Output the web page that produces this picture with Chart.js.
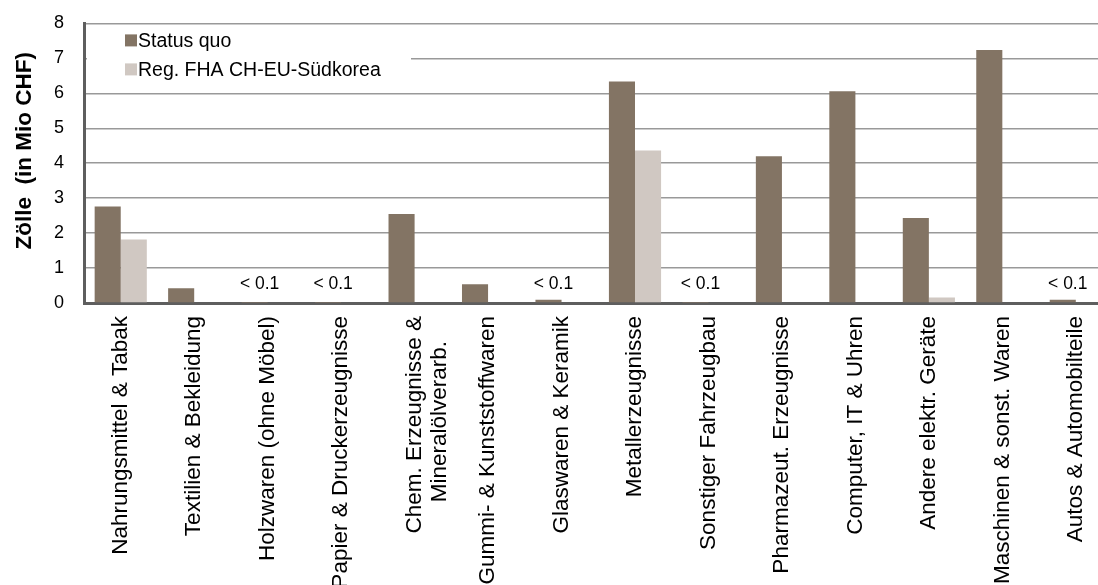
<!DOCTYPE html>
<html>
<head>
<meta charset="utf-8">
<script src="https://cdn.jsdelivr.net/npm/chart.js@4/dist/chart.umd.min.js"></script>
<style>
  html, body { margin: 0; padding: 0; background: #fff; overflow: hidden; }
  #wrap { width: 1114px; height: 585px; }
</style>
</head>
<body>
<div id="wrap"><canvas id="c" width="1114" height="585"></canvas></div>
<script>
// Branchen (x-axis categories)
const categories = [
  'Nahrungsmittel & Tabak',
  'Textilien & Bekleidung',
  'Holzwaren (ohne Möbel)',
  'Papier & Druckerzeugnisse',
  ['Chem. Erzeugnisse &', 'Mineralölverarb.    '],
  'Gummi- & Kunststoffwaren',
  'Glaswaren & Keramik',
  'Metallerzeugnisse',
  'Sonstiger Fahrzeugbau',
  'Pharmazeut. Erzeugnisse',
  'Computer, IT & Uhren',
  'Andere elektr. Geräte',
  'Maschinen & sonst. Waren',
  'Autos & Automobilteile'
];

// Zölle in Mio CHF
const statusQuo = [2.76, 0.42, 0.01, 0.01, 2.55, 0.54, 0.09, 6.34, 0.01, 4.20, 6.06, 2.43, 7.24, 0.09];
const regFHA    = [1.82, 0.00, 0.00, 0.00, 0.00, 0.00, 0.00, 4.36, 0.00, 0.00, 0.00, 0.16, 0.00, 0.00];

// Hinweise für sehr kleine Beträge
const valueNotes = ['', '', '< 0.1', '< 0.1', '', '', '< 0.1', '', '< 0.1', '', '', '', '', '< 0.1'];

const yTicks = [0, 1, 2, 3, 4, 5, 6, 7, 8];
const seriesNames = ['Status quo', 'Reg. FHA CH-EU-Südkorea'];
const seriesColors = ['#837464', '#d0c8c2'];

const FONT = '"Liberation Sans", Arial, sans-serif';

// Legend box drawn inside the plot area (top-left)
const innerLegend = {
  id: 'innerLegend',
  afterDatasetsDraw(chart) {
    const { ctx, chartArea } = chart;
    const x0 = chartArea.left + 3;
    const y0 = chartArea.top + 2;
    ctx.save();
    ctx.fillStyle = '#ffffff';
    ctx.fillRect(x0, y0, 324, 66);
    ctx.font = '19.5px ' + FONT;
    ctx.textBaseline = 'middle';
    ctx.textAlign = 'left';
    chart.data.datasets.forEach((ds, i) => {
      const cy = chartArea.top + 17 + i * 29;
      ctx.fillStyle = ds.backgroundColor;
      ctx.fillRect(chartArea.left + 41, cy - 6, 12, 12);
      ctx.fillStyle = '#000';
      ctx.fillText(ds.label, chartArea.left + 54, cy + 1);
    });
    ctx.restore();
  }
};

// "< 0.1" notes above the first series' bars
const smallValueNotes = {
  id: 'smallValueNotes',
  afterDatasetsDraw(chart) {
    const { ctx } = chart;
    const meta = chart.getDatasetMeta(0);
    const y = chart.scales.y.getPixelForValue(0) - 19;
    ctx.save();
    ctx.font = '17.5px ' + FONT;
    ctx.fillStyle = '#000';
    ctx.textAlign = 'center';
    ctx.textBaseline = 'middle';
    valueNotes.forEach((t, i) => {
      if (t) ctx.fillText(t, meta.data[i].x + 5, y);
    });
    ctx.restore();
  }
};

new Chart(document.getElementById('c'), {
  type: 'bar',
  data: {
    labels: categories,
    datasets: [
      { label: seriesNames[0], data: statusQuo, backgroundColor: seriesColors[0] },
      { label: seriesNames[1], data: regFHA, backgroundColor: seriesColors[1] }
    ]
  },
  options: {
    responsive: false,
    animation: false,
    devicePixelRatio: 1,
    layout: { padding: { top: 23.4, left: 0, right: 0, bottom: 0 } },
    datasets: { bar: { categoryPercentage: 0.71, barPercentage: 1.0, borderWidth: 0 } },
    plugins: {
      legend: { display: false },
      tooltip: { enabled: false }
    },
    scales: {
      x: {
        grid: { display: false, drawTicks: false },
        border: { display: true, color: '#5e5e5e', width: 3 },
        ticks: {
          autoSkip: false,
          maxRotation: 90,
          minRotation: 90,
          padding: 13,
          color: '#000',
          font: { family: FONT, size: 22.5, lineHeight: 1.12 }
        },
        afterFit(scale) { scale.height = 282; }
      },
      y: {
        min: 0,
        max: 8,
        afterBuildTicks(scale) { scale.ticks = yTicks.map(v => ({ value: v })); },
        grid: { color: '#999999', lineWidth: 1.5, drawTicks: false },
        border: { display: true, color: '#5e5e5e', width: 3 },
        ticks: {
          padding: 20,
          color: '#000',
          font: { family: FONT, size: 18 }
        },
        title: {
          display: true,
          text: '    Zölle  (in Mio CHF)',
          color: '#000',
          padding: { top: 11, bottom: 0 },
          font: { family: FONT, size: 22.5, weight: 'bold' }
        },
        afterFit(scale) {
          scale.width = 84;
          scale.paddingTop = 0;
          scale.paddingBottom = 0;
        }
      }
    }
  },
  plugins: [innerLegend, smallValueNotes]
});
</script>
</body>
</html>
